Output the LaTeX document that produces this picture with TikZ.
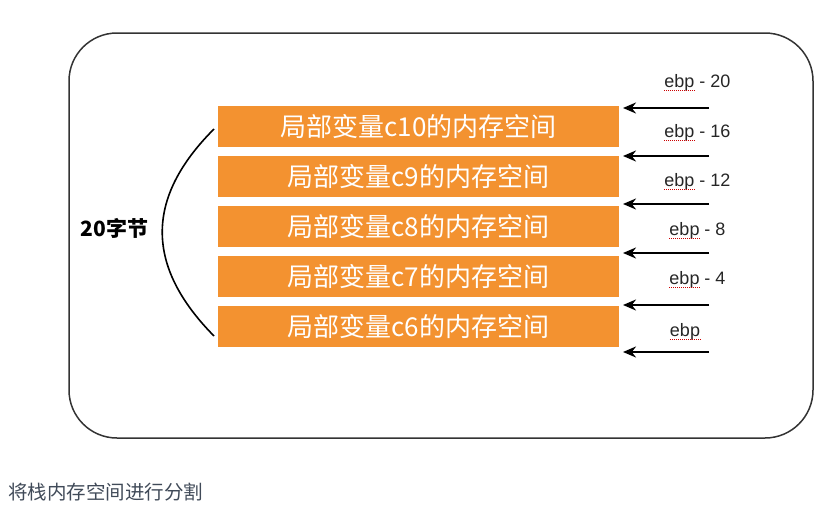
\documentclass[tikz,border=0pt]{standalone}
\usepackage{fontspec}
\setmainfont{Liberation Sans}
\newfontfamily\cjk{Noto Sans CJK SC}
\usetikzlibrary{arrows.meta}
\definecolor{boxorange}{RGB}{243,146,48}
\definecolor{capgray}{RGB}{64,74,88}

\begin{document}
\begin{tikzpicture}[x=1pt, y=-1pt, >={Stealth[length=13pt,width=11pt]},
    var/.style={fill=boxorange, text=white, minimum width=401pt,
        minimum height=41pt, inner sep=0pt,
        font=\cjk\fontsize{26pt}{30pt}\selectfont},
    ptr/.style={->, line width=2.4pt},
    addr/.style={inner sep=0pt, text=black!85,
        font=\fontsize{18pt}{20pt}\selectfont},
    squiggle/.style={red!80!black, densely dotted, line width=1pt}]
    \useasboundingbox (0,0) rectangle (839,517);

    \draw[line width=1.5pt, black!80, rounded corners=48pt]
        (69,33) rectangle (813,438);

    % stack slots
    \foreach \n [count=\i] in {10,9,8,7,6}
        \node[var] (c\n) at (418.5, 76.5+50*\i) {局部变量c{\n}的内存空间};

    % pointers from the right
    \foreach \y [count=\i] in {108,156,204,253,305,352} {
        \coordinate (t\i) at (709,\y);
        \coordinate (h\i) at (623,\y);
        \draw[ptr] (t\i) -- (h\i);
    }

    \foreach \d/\y in {20/83,16/133,12/182,8/231,4/280} {
        \node[addr] (e\d) at (697.5,\y) {ebp - \d};
        \draw[squiggle] ([yshift=-3pt]e\d.base west) -- ++(32,0);
    }
    \node[addr] (e0) at (685,332) {ebp};
    \draw[squiggle] ([yshift=-3pt]e0.base west) -- ++(32,0);

    % size bracket
    \coordinate (bt) at (214,129);
    \coordinate (bb) at (214,336);
    \draw[line width=1.6pt] (bt) .. controls (145,198) and (145,266) .. (bb);
    \node[font=\cjk\bfseries\fontsize{21pt}{24pt}\selectfont] (size)
        at (114.5,228) {20字节};

    \node[anchor=west, inner sep=0pt, text=capgray,
        font=\cjk\fontsize{19.5pt}{22pt}\selectfont] (cap)
        at (8,492) {将栈内存空间进行分割};
\end{tikzpicture}
\end{document}
